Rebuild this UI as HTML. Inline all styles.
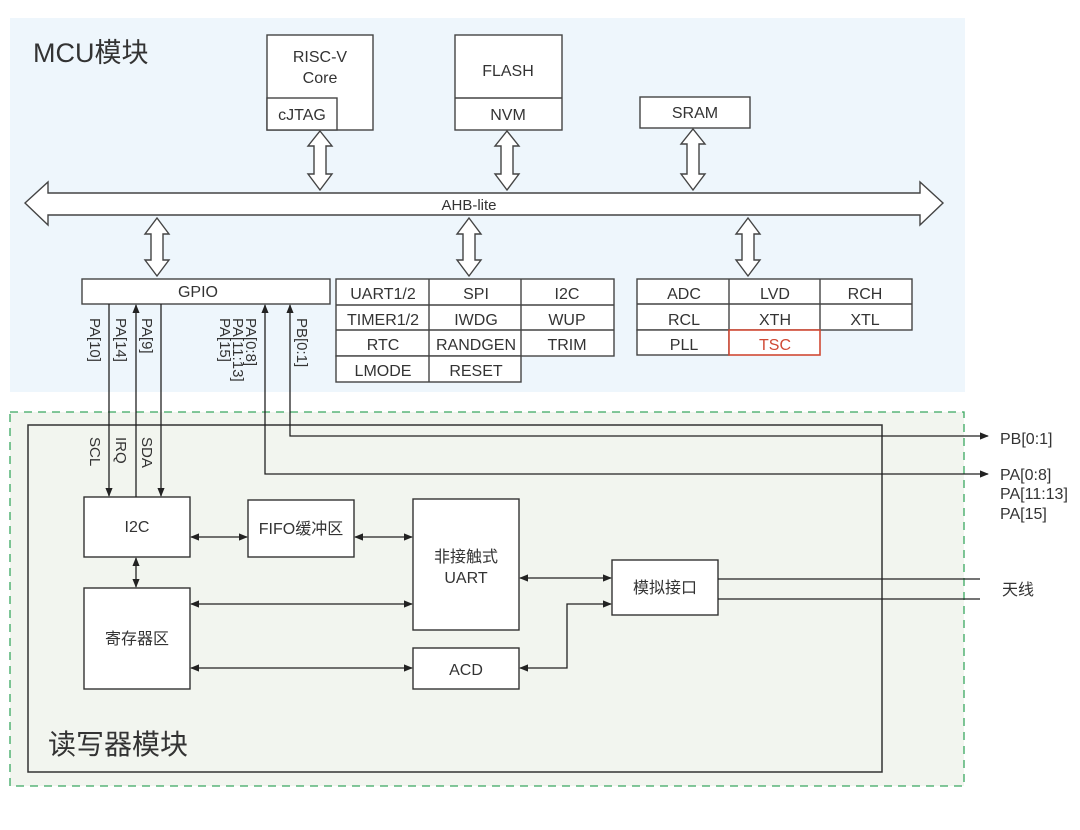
<!DOCTYPE html>
<html><head><meta charset="utf-8"><style>
html,body{margin:0;padding:0;background:#fff;width:1080px;height:830px;overflow:hidden}
svg{display:block}
text{font-family:"Liberation Sans","Noto Sans CJK SC",sans-serif;fill:#333}
</style></head><body>
<svg width="1080" height="830" viewBox="0 0 1080 830" xmlns="http://www.w3.org/2000/svg">
<defs>
<marker id="a" viewBox="0 0 10 10" refX="9" refY="5" markerWidth="7" markerHeight="7" orient="auto-start-reverse"><path d="M0,1 L10,5 L0,9 z" fill="#222"/></marker>
</defs>
<rect x="10" y="18" width="955" height="374" fill="#eef6fc"/>
<rect x="10" y="412" width="954" height="374" fill="#f2f5ef" stroke="#3aa860" stroke-width="1.3" stroke-dasharray="8,6"/>
<rect x="28" y="425" width="854" height="347" fill="none" stroke="#333" stroke-width="1.5"/>
<text x="33" y="62" font-size="27">MCU模块</text>
<text x="48" y="754" font-size="28">读写器模块</text>

<g stroke="#444" stroke-width="1.4" fill="#fff">
<!-- bus -->
<path d="M25,203 L48,182 L48,193 L920,193 L920,182 L943,203 L920,225 L920,215 L48,215 L48,225 Z"/>
<!-- double arrows -->
<path d="M320,131 L332,146 L326,146 L326,174 L332,174 L320,190 L308,174 L314,174 L314,146 L308,146 Z"/>
<path d="M507,131 L519,146 L513,146 L513,174 L519,174 L507,190 L495,174 L501,174 L501,146 L495,146 Z"/>
<path d="M693,129 L705,144 L699,144 L699,174 L705,174 L693,190 L681,174 L687,174 L687,144 L681,144 Z"/>
<path d="M157,218 L169,234 L163,234 L163,260 L169,260 L157,276 L145,260 L151,260 L151,234 L145,234 Z"/>
<path d="M469,218 L481,234 L475,234 L475,260 L481,260 L469,276 L457,260 L463,260 L463,234 L457,234 Z"/>
<path d="M748,218 L760,234 L754,234 L754,260 L760,260 L748,276 L736,260 L742,260 L742,234 L736,234 Z"/>
<!-- top boxes -->
<rect x="267" y="35" width="106" height="95"/>
<rect x="267" y="98" width="70" height="32"/>
<rect x="455" y="35" width="107" height="95"/>
<line x1="455" y1="98" x2="562" y2="98"/>
<rect x="640" y="97" width="110" height="31"/>
<!-- gpio -->
<rect x="82" y="279" width="248" height="25"/>
<!-- grid 1 -->
<rect x="336" y="279" width="278" height="77"/>
<rect x="336" y="356" width="185" height="26"/>
<line x1="336" y1="305" x2="614" y2="305"/><line x1="336" y1="330" x2="614" y2="330"/>
<line x1="429" y1="279" x2="429" y2="382"/><line x1="521" y1="279" x2="521" y2="356"/>
<!-- grid 2 -->
<rect x="637" y="279" width="275" height="51"/>
<rect x="637" y="330" width="92" height="25"/>
<line x1="637" y1="304" x2="912" y2="304"/>
<line x1="729" y1="279" x2="729" y2="330"/><line x1="820" y1="279" x2="820" y2="330"/>
</g>
<rect x="729" y="330" width="91" height="25" fill="#fff" stroke="#d04a35" stroke-width="1.6"/>

<g font-size="16" text-anchor="middle">
<text x="320" y="62">RISC-V</text><text x="320" y="83">Core</text>
<text x="302" y="120">cJTAG</text>
<text x="508" y="76">FLASH</text><text x="508" y="120">NVM</text>
<text x="695" y="118">SRAM</text>
<text x="469" y="210" font-size="15">AHB-lite</text>
<text x="198" y="297">GPIO</text>
<text x="383" y="299">UART1/2</text><text x="476" y="299">SPI</text><text x="567" y="299">I2C</text>
<text x="383" y="325">TIMER1/2</text><text x="476" y="325">IWDG</text><text x="567" y="325">WUP</text>
<text x="383" y="350">RTC</text><text x="476" y="350">RANDGEN</text><text x="567" y="350">TRIM</text>
<text x="383" y="376">LMODE</text><text x="476" y="376">RESET</text>
<text x="684" y="299">ADC</text><text x="775" y="299">LVD</text><text x="865" y="299">RCH</text>
<text x="684" y="325">RCL</text><text x="775" y="325">XTH</text><text x="865" y="325">XTL</text>
<text x="684" y="350">PLL</text><text x="775" y="350" style="fill:#d04a35">TSC</text>
</g>

<!-- lower -->
<g stroke="#333" stroke-width="1.4" fill="#fff">
<rect x="84" y="497" width="106" height="60"/>
<rect x="248" y="500" width="106" height="57"/>
<rect x="413" y="499" width="106" height="131"/>
<rect x="612" y="560" width="106" height="55"/>
<rect x="84" y="588" width="106" height="101"/>
<rect x="413" y="648" width="106" height="41"/>
</g>
<g stroke="#222" stroke-width="1.3" fill="none">
<line x1="109" y1="304" x2="109" y2="496" marker-end="url(#a)"/>
<line x1="136" y1="497" x2="136" y2="305" marker-end="url(#a)"/>
<line x1="161" y1="304" x2="161" y2="496" marker-end="url(#a)"/>
<polyline points="988,474 265,474 265,305" marker-start="url(#a)" marker-end="url(#a)"/>
<polyline points="988,436 290,436 290,305" marker-start="url(#a)" marker-end="url(#a)"/>
<line x1="191" y1="537" x2="247" y2="537" marker-start="url(#a)" marker-end="url(#a)"/>
<line x1="355" y1="537" x2="412" y2="537" marker-start="url(#a)" marker-end="url(#a)"/>
<line x1="136" y1="558" x2="136" y2="587" marker-start="url(#a)" marker-end="url(#a)"/>
<line x1="191" y1="604" x2="412" y2="604" marker-start="url(#a)" marker-end="url(#a)"/>
<line x1="191" y1="668" x2="412" y2="668" marker-start="url(#a)" marker-end="url(#a)"/>
<line x1="520" y1="578" x2="611" y2="578" marker-start="url(#a)" marker-end="url(#a)"/>
<polyline points="520,668 567,668 567,604 611,604" marker-start="url(#a)" marker-end="url(#a)"/>
<line x1="718" y1="579" x2="980" y2="579"/>
<line x1="718" y1="599" x2="980" y2="599"/>
</g>
<g font-size="15">
<text transform="translate(90,318) rotate(90)">PA[10]</text>
<text transform="translate(116,318) rotate(90)">PA[14]</text>
<text transform="translate(142,318) rotate(90)">PA[9]</text>
<text transform="translate(246,318) rotate(90)">PA[0:8]</text>
<text transform="translate(233,318) rotate(90)">PA[11:13]</text>
<text transform="translate(220,318) rotate(90)">PA[15]</text>
<text transform="translate(297,318) rotate(90)">PB[0:1]</text>
<text transform="translate(90,437) rotate(90)">SCL</text>
<text transform="translate(116,437) rotate(90)">IRQ</text>
<text transform="translate(142,437) rotate(90)">SDA</text>
</g>
<g font-size="16" text-anchor="middle">
<text x="137" y="532">I2C</text>
<text x="301" y="534">FIFO缓冲区</text>
<text x="466" y="562">非接触式</text><text x="466" y="583">UART</text>
<text x="665" y="593">模拟接口</text>
<text x="137" y="644">寄存器区</text>
<text x="466" y="675">ACD</text>
</g>
<g font-size="16">
<text x="1000" y="444">PB[0:1]</text>
<text x="1000" y="480">PA[0:8]</text>
<text x="1000" y="499">PA[11:13]</text>
<text x="1000" y="519">PA[15]</text>
<text x="1002" y="595">天线</text>
</g>
</svg>
</body></html>
